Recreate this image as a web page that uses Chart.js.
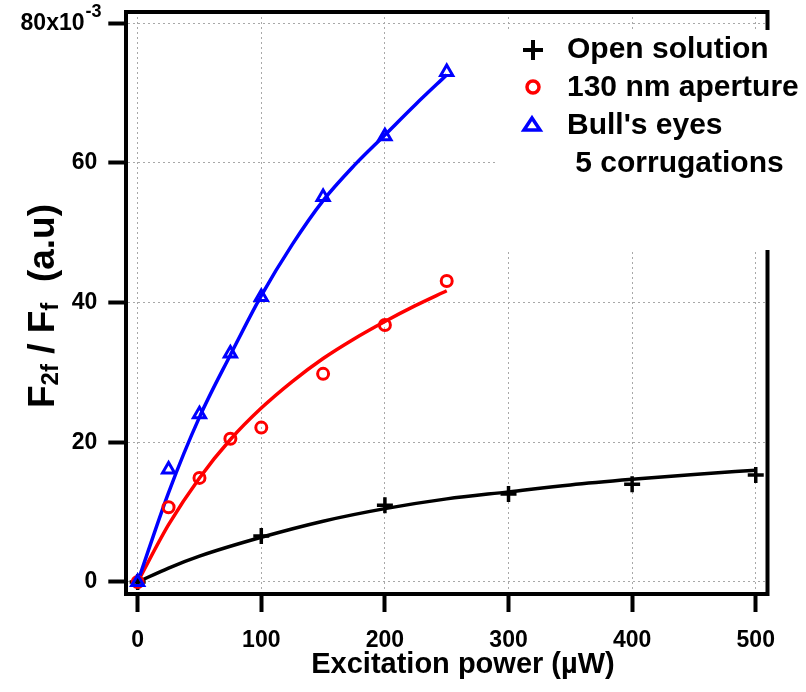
<!DOCTYPE html>
<html>
<head>
<meta charset="utf-8">
<script src="https://cdn.jsdelivr.net/npm/chart.js@4/dist/chart.umd.min.js"></script>
<style>
html,body{margin:0;padding:0;background:#fff;}
#wrap{width:806px;height:692px;position:relative;}
</style>
</head>
<body>
<div id="wrap"><canvas id="c" width="806" height="692"></canvas></div>
<script>
// ---- data (y values in units of 10^-3) ----
const xTicks = [0, 100, 200, 300, 400, 500];
const yTicks = [0, 20, 40, 60, 80];
const seriesNames = ['Open solution', '130 nm aperture', "Bull's eyes"];
const legendExtraLine = ' 5 corrugations';
const xTitle = 'Excitation power (\u00B5W)';

const openX = [0, 100, 200, 300, 400, 500];
const openY = [0, 6.6, 11.0, 12.6, 14.0, 15.3];
const apertureX = [0, 25, 50, 75, 100, 150, 200, 250];
const apertureY = [0, 10.7, 14.9, 20.5, 22.1, 29.8, 36.8, 43.1];
const bullX = [0, 25, 50, 75, 100, 150, 200, 250];
const bullY = [0, 16.1, 24.0, 32.7, 40.8, 55.1, 63.8, 73.0];

const openFitX = [0, 25, 50, 100, 150, 200, 250, 300, 350, 400, 450, 500];
const openFitY = [0, 2.0, 3.7, 6.4, 8.7, 10.5, 11.9, 12.9, 13.9, 14.7, 15.4, 16.0];
const apertureFitX = [0, 25, 50, 75, 100, 125, 150, 175, 200, 225, 250];
const apertureFitY = [0, 8.2, 14.9, 20.4, 24.9, 28.7, 32.0, 34.8, 37.3, 39.6, 41.7];
const bullFitX = [0, 25, 50, 75, 100, 125, 150, 175, 200, 225, 250];
const bullFitY = [0, 12.8, 23.6, 32.5, 41.0, 48.3, 54.6, 59.6, 64.0, 68.4, 72.6];

const pts = (xs, ys) => xs.map((x, i) => ({x: x, y: ys[i]}));

const FONT = '"Liberation Sans", Arial, Helvetica, sans-serif';
const BLACK = '#000000', RED = '#ff0000', BLUE = '#0000ff';
const TICK_SIZE = 23;

const decorPlugin = {
  id: 'decor',
  afterDatasetsDraw(chart) {
    const ctx = chart.ctx, a = chart.chartArea;
    ctx.save();
    ctx.strokeStyle = BLACK;
    ctx.lineWidth = 4;
    ctx.beginPath();
    ctx.moveTo(a.left - 2, a.top);
    ctx.lineTo(a.right, a.top);
    ctx.moveTo(a.right, a.top - 2);
    ctx.lineTo(a.right, a.bottom + 2);
    ctx.stroke();

    // legend box (white, covers grid and right frame)
    ctx.fillStyle = '#ffffff';
    ctx.fillRect(498, 30, 806 - 498, 250 - 30);

    // legend markers
    ctx.lineWidth = 4;
    ctx.strokeStyle = BLACK;
    ctx.beginPath();
    ctx.moveTo(523, 50); ctx.lineTo(543, 50);
    ctx.moveTo(533, 40); ctx.lineTo(533, 60);
    ctx.stroke();
    ctx.lineWidth = 3.5;
    ctx.strokeStyle = RED;
    ctx.beginPath();
    ctx.arc(533, 87, 6, 0, Math.PI * 2);
    ctx.stroke();
    ctx.strokeStyle = BLUE;
    ctx.beginPath();
    ctx.moveTo(532, 118); ctx.lineTo(540, 130); ctx.lineTo(524, 130); ctx.closePath();
    ctx.stroke();

    // legend text
    ctx.fillStyle = BLACK;
    ctx.font = 'bold 30px ' + FONT;
    ctx.textAlign = 'left';
    ctx.textBaseline = 'alphabetic';
    ctx.fillText(seriesNames[0], 567, 58);
    ctx.fillText(seriesNames[1], 567, 96);
    ctx.fillText(seriesNames[2], 567, 134);
    ctx.fillText(legendExtraLine, 567, 172);
    ctx.restore();
  },
  afterDraw(chart) {
    const ctx = chart.ctx;
    const ys = chart.scales.y;
    ctx.save();
    ctx.fillStyle = BLACK;
    // superscript of the 80x10^-3 tick label
    ctx.font = 'bold ' + TICK_SIZE + 'px ' + FONT;
    const spaceW = ctx.measureText('  ').width;
    const labelRight = chart.chartArea.left - 18 - 11;
    const y80 = ys.getPixelForValue(80);
    ctx.font = 'bold 18px ' + FONT;
    ctx.textAlign = 'left';
    ctx.textBaseline = 'alphabetic';
    ctx.fillText('-3', labelRight - spaceW + 1, y80 - 6);

    // x axis title
    ctx.font = 'bold 29px ' + FONT;
    ctx.textAlign = 'center';
    ctx.fillText(xTitle, 463, 673);

    // y axis title with subscripts: F2f / Ff  (a.u)
    const parts = [
      {t: 'F', big: true}, {t: '2f', big: false}, {t: ' / ', big: true},
      {t: 'F', big: true}, {t: 'f', big: false}, {t: '  (a.u)', big: true}
    ];
    const bigF = 'bold 37px ' + FONT, smallF = 'bold 24px ' + FONT;
    let total = 0;
    parts.forEach(p => { ctx.font = p.big ? bigF : smallF; p.w = ctx.measureText(p.t).width; total += p.w; });
    ctx.translate(54, 306);
    ctx.rotate(-Math.PI / 2);
    ctx.textAlign = 'left';
    let x = -total / 2;
    parts.forEach(p => {
      ctx.font = p.big ? bigF : smallF;
      ctx.fillText(p.t, x, p.big ? 0 : 4);
      x += p.w;
    });
    ctx.restore();
  }
};

const tickFont = {family: FONT, size: TICK_SIZE, weight: 'bold', lineHeight: 1};
const noPad = s => { s.paddingTop = 0; s.paddingBottom = 0; s.paddingLeft = 0; s.paddingRight = 0; };

new Chart(document.getElementById('c'), {
  type: 'scatter',
  data: {
    datasets: [
      {label: seriesNames[2], data: pts(bullX, bullY), showLine: false, pointStyle: 'triangle',
       pointRadius: 7, pointBorderWidth: 3, borderColor: BLUE, backgroundColor: 'rgba(0,0,0,0)'},
      {label: seriesNames[1], data: pts(apertureX, apertureY), showLine: false, pointStyle: 'circle',
       pointRadius: 5.5, pointBorderWidth: 3, borderColor: RED, backgroundColor: 'rgba(0,0,0,0)'},
      {label: seriesNames[0], data: pts(openX, openY), showLine: false, pointStyle: 'cross',
       pointRadius: 8, pointBorderWidth: 3.5, borderColor: BLACK, backgroundColor: BLACK},
      {label: seriesNames[2] + ' fit', data: pts(bullFitX, bullFitY), showLine: true, pointRadius: 0,
       borderColor: BLUE, borderWidth: 3.5, cubicInterpolationMode: 'monotone', fill: false},
      {label: seriesNames[1] + ' fit', data: pts(apertureFitX, apertureFitY), showLine: true, pointRadius: 0,
       borderColor: RED, borderWidth: 3.5, cubicInterpolationMode: 'monotone', fill: false},
      {label: seriesNames[0] + ' fit', data: pts(openFitX, openFitY), showLine: true, pointRadius: 0,
       borderColor: BLACK, borderWidth: 3.5, cubicInterpolationMode: 'monotone', fill: false}
    ]
  },
  options: {
    responsive: false,
    animation: false,
    devicePixelRatio: 1,
    layout: {padding: {left: 0, top: 12, right: 38.5, bottom: 0}},
    plugins: {legend: {display: false}, tooltip: {enabled: false}, title: {display: false}},
    scales: {
      x: {
        type: 'linear', position: 'bottom', min: -9.2, max: 509.5,
        afterBuildTicks: s => { s.ticks = xTicks.map(v => ({value: v})); },
        afterFit: s => { s.height = 98; noPad(s); },
        grid: {color: '#a8a8a8', lineWidth: 1, drawTicks: true, tickLength: 18, tickWidth: 4, tickColor: BLACK},
        border: {display: true, color: BLACK, width: 4, dash: [2, 3]},
        ticks: {color: BLACK, font: tickFont, padding: 17, maxRotation: 0, autoSkip: false}
      },
      y: {
        type: 'linear', position: 'left', min: -1.72, max: 81.6,
        afterBuildTicks: s => { s.ticks = yTicks.map(v => ({value: v})); },
        afterFit: s => { s.width = 126.3; noPad(s); },
        grid: {color: '#a8a8a8', lineWidth: 1, drawTicks: true, tickLength: 18, tickWidth: 4, tickColor: BLACK},
        border: {display: true, color: BLACK, width: 4, dash: [2, 3]},
        ticks: {color: BLACK, font: tickFont, padding: 11, autoSkip: false,
                callback: v => (v === 80 ? '80x10  ' : String(v))}
      }
    }
  },
  plugins: [decorPlugin]
});
</script>
</body>
</html>
